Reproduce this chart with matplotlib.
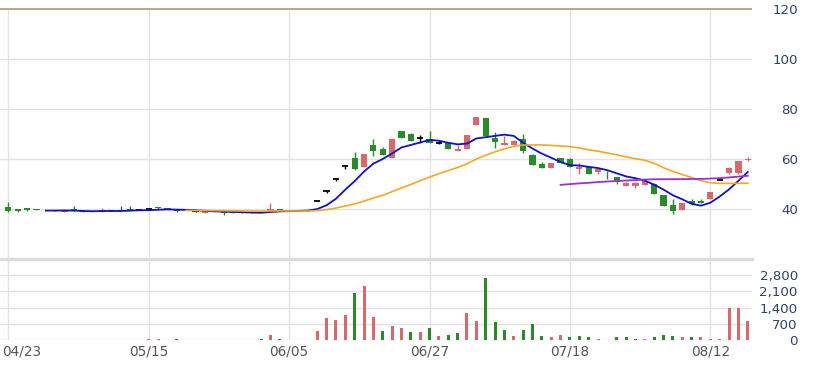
import matplotlib
matplotlib.use("Agg")
import matplotlib.pyplot as plt
import numpy as np

# ---------------- data ----------------
dates = ["04/23", "05/15", "06/05", "06/27", "07/18", "08/12"]
date_idx = [0, 15, 30, 45, 60, 75]

opens = [40.8, 39.8, 40.3, 39.8, 39.6, 39.4, 38.9, 39.9, 39.0, 38.9,
         38.8, 39.4, 39.7, 39.6, 39.6, 39.8, 40.8, 40.1, 40.0, 39.0,
         39.0, 38.4, 38.9, 38.7, 38.6, 38.6, 38.6, 38.5, 39.3, 39.9,
         39.2, 39.1, 39.0, 43.0, 47.3, 52.0, 57.2, 60.5, 56.9, 65.4,
         63.8, 60.3, 71.0, 70.1, 68.2, 68.1, 66.5, 66.3, 63.0, 63.8,
         73.4, 76.2, 68.5, 65.4, 65.7, 68.1, 61.4, 57.8, 56.3, 60.3,
         60.1, 55.8, 56.7, 54.7, 54.4, 52.9, 49.1, 49.1, 49.4, 49.8,
         45.4, 41.4, 39.5, 43.1, 43.1, 44.1, 51.6, 54.2, 54.5, 59.4]
highs = [42.8, 39.9, 40.5, 39.8, 39.6, 39.5, 39.4, 41.0, 39.0, 38.9,
         40.3, 39.5, 41.0, 41.0, 39.7, 39.9, 40.9, 40.1, 40.0, 39.2,
         39.1, 39.3, 38.9, 38.7, 38.6, 38.6, 38.6, 38.5, 42.5, 39.9,
         39.2, 39.1, 39.1, 43.0, 47.3, 52.0, 57.2, 62.7, 62.1, 68.1,
         64.9, 68.1, 71.0, 70.3, 69.7, 71.0, 67.0, 66.3, 65.4, 69.7,
         76.7, 76.2, 70.7, 69.1, 67.5, 69.8, 61.8, 58.7, 58.2, 60.3,
         60.3, 58.2, 56.7, 56.3, 55.1, 52.9, 50.7, 50.8, 51.1, 50.5,
         45.4, 44.1, 42.2, 44.0, 44.0, 46.9, 51.6, 56.8, 59.1, 60.6]
lows = [38.9, 38.8, 39.3, 39.5, 39.4, 39.3, 38.9, 39.0, 38.8, 38.8,
        38.8, 39.2, 39.2, 39.4, 39.5, 39.7, 40.1, 39.9, 38.9, 39.0,
        38.9, 38.3, 38.7, 37.7, 38.5, 38.5, 38.5, 38.4, 39.3, 39.7,
        39.0, 39.0, 39.0, 43.0, 46.5, 51.0, 55.8, 55.5, 56.9, 61.1,
        61.4, 60.3, 68.2, 67.0, 66.5, 66.4, 65.8, 64.1, 63.0, 63.8,
        73.4, 69.1, 64.2, 65.4, 65.7, 62.5, 57.4, 56.5, 56.3, 58.5,
        56.9, 53.8, 53.8, 53.8, 52.1, 49.9, 49.1, 48.5, 49.4, 45.8,
        41.1, 37.8, 39.5, 41.5, 42.2, 44.1, 51.6, 53.8, 54.0, 59.0]
closes = [39.3, 39.0, 39.5, 39.5, 39.4, 39.3, 39.3, 39.2, 38.8, 38.8,
          39.7, 39.3, 39.3, 39.5, 39.6, 39.8, 40.2, 40.0, 39.0, 39.2,
          39.0, 39.2, 38.8, 38.5, 38.5, 38.5, 38.5, 38.4, 40.0, 39.7,
          39.0, 39.0, 39.1, 43.0, 47.3, 52.0, 57.2, 56.1, 62.1, 63.1,
          61.4, 68.1, 68.2, 67.0, 68.2, 66.4, 66.5, 64.1, 63.9, 69.7,
          76.6, 69.1, 66.7, 66.4, 67.1, 63.1, 57.4, 56.5, 58.2, 58.5,
          56.9, 56.7, 53.8, 55.8, 54.2, 50.7, 50.5, 50.2, 51.1, 45.8,
          41.1, 39.1, 42.2, 42.0, 42.2, 46.9, 51.6, 56.5, 59.1, 59.8]
volumes = [0, 0, 0, 0, 0, 0, 0, 0, 0, 0,
           0, 0, 0, 0, 0, 25, 25, 0, 25, 0,
           0, 0, 0, 0, 0, 0, 0, 25, 220, 25,
           0, 0, 0, 400, 940, 870, 1090, 2030, 2350, 1000,
           390, 620, 510, 330, 330, 510, 170, 220, 290, 1160,
           830, 2680, 770, 435, 170, 435, 680, 170, 130, 220,
           150, 170, 110, 45, 0, 110, 110, 50, 50, 130,
           220, 170, 130, 110, 110, 45, 45, 1380, 1380, 830]

price_ticks = [40, 60, 80, 100, 120]
vol_ticks = [0, 700, 1400, 2100, 2800]

# ---------------- style ----------------
RED = "#d8686b"
GREEN = "#2a8a2a"
GRID = "#e3e3e3"
LABEL = "#2e4466"

o = np.array(opens); h = np.array(highs); l = np.array(lows); c = np.array(closes)
v = np.array(volumes, dtype=float)
n = len(c)
x = np.arange(n)

def sma(arr, w):
    out = np.full(len(arr), np.nan)
    for i in range(w - 1, len(arr)):
        out[i] = arr[i - w + 1:i + 1].mean()
    return out

W, H = 814, 365
fig = plt.figure(figsize=(W / 100, H / 100), dpi=100)
ax_right = 752 / W
ax = fig.add_axes([0, (H - 259) / H, ax_right, (259 - 8) / H])
axv = fig.add_axes([0, (H - 340) / H, ax_right, (340 - 259) / H])

xl = (-0.89, 79.45)
for a in (ax, axv):
    a.set_xlim(*xl)
    for s in a.spines.values():
        s.set_visible(False)
    a.set_xticks(date_idx)
    a.xaxis.grid(True, color=GRID, lw=1)
    a.yaxis.grid(True, color=GRID, lw=1)
    a.set_axisbelow(True)
    a.tick_params(length=0)

ax.set_ylim(20, 120.3)
ax.set_yticks(price_ticks)
ax.set_xticklabels([])
ax.axhline(120, color="#b9a27a", lw=1.3, zorder=1)

axv.set_ylim(0, 3500)
axv.set_yticks(vol_ticks)
axv.set_yticklabels([f"{t:,}" for t in vol_ticks])
axv.axhline(3500, color="#dcdcdc", lw=2.5, clip_on=False)
axv.set_xticklabels([])

for a in (ax, axv):
    a.yaxis.tick_right()
    a.tick_params(axis="y", pad=33, labelsize=9.6, labelcolor=LABEL)
    for t in a.get_yticklabels():
        t.set_horizontalalignment("right")

# x labels
for i, d in zip(date_idx, dates):
    if i == 0:
        axv.text(-0.65, -0.145, d, transform=axv.get_xaxis_transform(), ha="left",
                 va="center", fontsize=9.8, color="#555555")
    else:
        axv.text(i, -0.145, d, transform=axv.get_xaxis_transform(), ha="center",
                 va="center", fontsize=9.8, color="#555555")

# candles
bw = 0.66
for i in range(n):
    if abs(c[i] - o[i]) < 1e-9:
        col = "black"
        ax.vlines(x[i], l[i], h[i], color=col, lw=1, zorder=3)
        ax.hlines(c[i], x[i] - bw / 2, x[i] + bw / 2, color=col, lw=1.3, zorder=3)
        continue
    col = RED if c[i] > o[i] else GREEN
    ax.vlines(x[i], l[i], h[i], color=col, lw=1, zorder=3)
    lo, hi = min(o[i], c[i]), max(o[i], c[i])
    ax.bar(x[i], max(hi - lo, 0.35), bottom=lo, width=bw, color=col, lw=0, zorder=3)

# moving averages
ax.plot(x, sma(c, 5), color="#1010c8", lw=1.3, zorder=4)
ax.plot(x, sma(c, 20), color="#f5a623", lw=1.2, zorder=4)
ax.plot(x, sma(c, 60), color="#9b30d0", lw=1.3, zorder=4)

# volume
vcol = [RED] + [RED if c[i] >= c[i - 1] else GREEN for i in range(1, n)]
axv.bar(x, v, width=0.32, color=vcol, lw=0, zorder=3)

fig.savefig("out.png", dpi=100)
